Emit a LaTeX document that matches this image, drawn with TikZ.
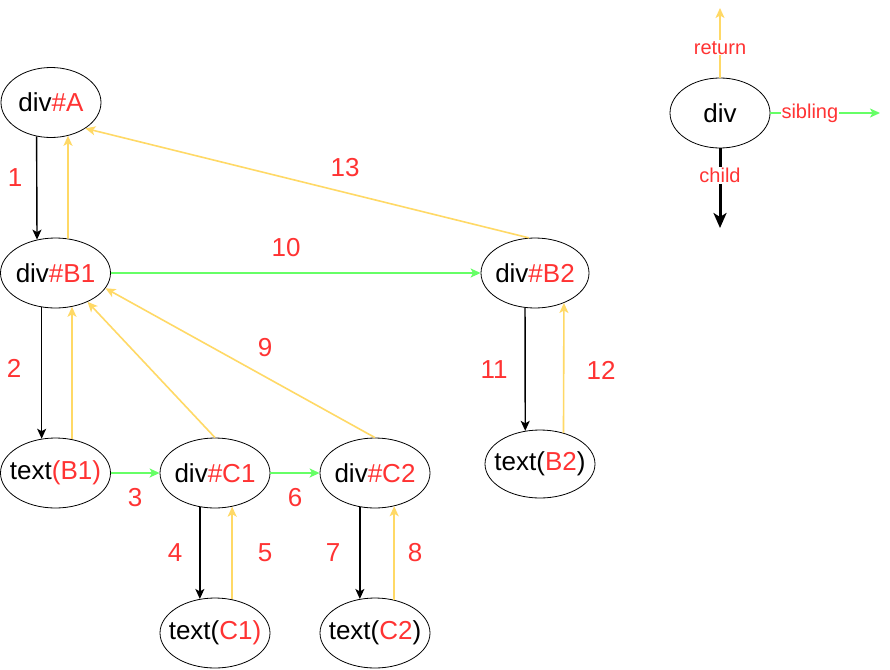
\documentclass[tikz,border=0pt]{standalone}
\usepackage{fontspec}
\setmainfont{Liberation Sans}
\usetikzlibrary{arrows.meta,shapes.geometric}
\definecolor{retyellow}{HTML}{FFD966}
\definecolor{sibgreen}{HTML}{66FF66}
\definecolor{numred}{HTML}{FF3333}
\newcommand{\hl}[1]{\textcolor{numred}{#1}}
\newcommand{\lbl}[1]{\makebox[0pt]{#1}}
\tikzset{
	fiber/.style={draw, ellipse, minimum width=110pt, minimum height=70pt, inner sep=0pt, line width=0.8pt, font=\fontsize{26}{30}\selectfont},
	childarrow/.style={line width=1.4pt, -{Stealth[length=10pt,width=9pt,inset=2.5pt]}},
	returnarrow/.style={retyellow, line width=1.6pt, -{Stealth[length=10pt,width=9pt,inset=2.5pt]}},
	siblingarrow/.style={sibgreen, line width=1.6pt, -{Stealth[length=10pt,width=9pt,inset=2.5pt]}},
	num/.style={numred, font=\fontsize{26}{30}\selectfont},
	tag/.style={numred, fill=white, inner sep=1pt, font=\fontsize{20}{24}\selectfont}
}

\begin{document}
\begin{tikzpicture}[x=1pt, y=-1pt]
	%%%%% START %%%%%
	
	\fill[white] (0,0) rectangle (890,669);
	\useasboundingbox (0,0) rectangle (890,669);
	
	\node[fiber, minimum width=100pt] (A) at (51,102.5) {\lbl{div\hl{\#A}}};
	\node[fiber] (B1) at (55.5,273) {\lbl{div\hl{\#B1}}};
	\node[fiber, minimum width=108pt] (B2) at (535,273) {\lbl{div\hl{\#B2}}};
	\node[fiber] (tB1) at (55.5,473) {\lbl{text\hl{(B1)}}};
	\node[fiber] (C1) at (215,473) {\lbl{div\hl{\#C1}}};
	\node[fiber] (C2) at (375,473) {\lbl{div\hl{\#C2}}};
	\node[fiber, minimum height=68pt] (tB2) at (540,464) {\lbl{text(\hl{B2})}};
	\node[fiber] (tC1) at (215,633) {\lbl{text(\hl{C1)}}};
	\node[fiber] (tC2) at (375,633) {\lbl{text(\hl{C2})}};
	
	\draw[childarrow] (A.247) -- (B1.119);
	\draw[returnarrow] (B1.70) -- (A.297);
	\draw[childarrow] (B1.248) -- (tB1.112);
	\draw[returnarrow] (tB1.64) -- (B1.296);
	\draw[siblingarrow] (tB1.east) -- (C1.west);
	\draw[childarrow] (C1.246) -- (tC1.114);
	\draw[returnarrow] (tC1.63) -- (C1.297);
	\draw[siblingarrow] (C1.east) -- (C2.west);
	\draw[childarrow] (C2.246) -- (tC2.114);
	\draw[returnarrow] (tC2.60) -- (C2.300);
	\draw[returnarrow] (C1.north) -- (B1.318);
	\draw[returnarrow] (C2.north) -- (B1.343);
	\draw[siblingarrow] (B1.east) -- (B2.west);
	\draw[childarrow] (B2.254) -- (tB2.114);
	\draw[returnarrow] (tB2.53) -- (B2.314);
	\draw[returnarrow] (B2.100) -- (A.323);
	
	\node[num] (n1) at (15,178) {1};
	\node[num] (n2) at (14,368) {2};
	\node[num] (n3) at (135,498) {3};
	\node[num] (n4) at (175,553) {4};
	\node[num] (n5) at (265,553) {5};
	\node[num] (n6) at (295,498) {6};
	\node[num] (n7) at (333,553) {7};
	\node[num] (n8) at (415,553) {8};
	\node[num] (n9) at (265,348) {9};
	\node[num] (n10) at (286,248) {10};
	\node[num] (n11) at (494,370) {11};
	\node[num] (n12) at (601,370) {12};
	\node[num] (n13) at (345,168) {13};
	
	% legend
	\node[fiber, minimum width=100pt] (leg) at (720,113) {\lbl{div}};
	\coordinate (legret) at (720,8);
	\coordinate (legsib) at (880,113);
	\coordinate (legchild) at (720,228);
	\draw[returnarrow] (leg.north) -- node[tag, pos=0.43] (tagret) {return} (legret);
	\draw[siblingarrow] (leg.east) -- node[tag, pos=0.36] (tagsib) {sibling} (legsib);
	\draw[line width=3pt, -{Stealth[length=15pt,width=13pt,inset=4pt]}] (leg.south) -- node[tag, pos=0.34] (tagchild) {child} (legchild);
	
	%%%%% END %%%%%
\end{tikzpicture}
\end{document}
